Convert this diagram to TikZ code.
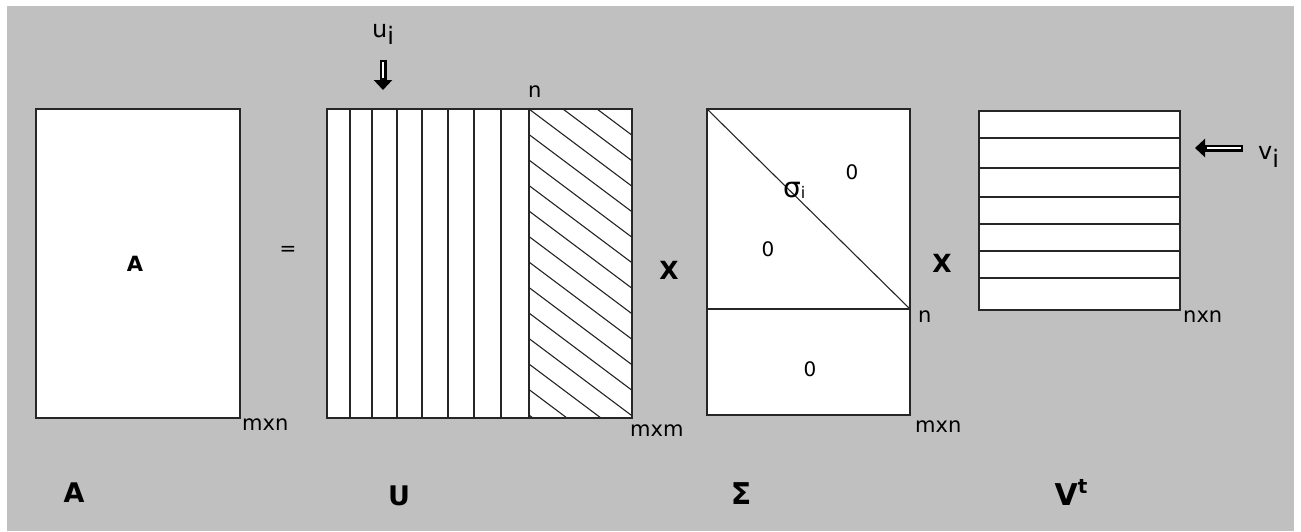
\documentclass[tikz,border=0pt]{standalone}
\usepackage{fontspec}
\setmainfont{DejaVu Sans}
\usetikzlibrary{arrows.meta,positioning}

\definecolor{bggray}{HTML}{C0C0C0}
\tikzset{
  mat/.style={draw=black!85,line width=1.6pt},
  grid/.style={draw=black!85,line width=1.1pt},
  dim/.style={font=\fontsize{21}{22}\selectfont,inner sep=0pt,anchor=base west},
  zero/.style={font=\fontsize{20}{22}\selectfont,inner sep=0pt},
  big/.style={font=\bfseries\fontsize{27}{30}\selectfont,inner sep=0pt,anchor=base},
  ptr/.style={line width=7pt,-{Triangle[length=10pt,width=18pt]}},
}

\begin{document}
\begin{tikzpicture}[x=1pt,y=-1pt]
\useasboundingbox (0,0) rectangle (1301,531);
\fill[white] (0,0) rectangle (1301,531);
\fill[bggray] (7,6) rectangle (1294,531);

\fill[white] (36,109) rectangle (240,418);
\draw[mat] (36,109) rectangle (240,418);
\node[font=\bfseries\fontsize{21}{22}\selectfont,inner sep=0pt] (inA) at (135,264) {A};
\node[dim] (dimA) at (242,430) {mxn};
\node[zero] (eq) at (288,251) {=};
\node[big] (nameA) at (74,502) {A};

\fill[white] (327,109) rectangle (632,418);
\foreach \x in {350,372,397,422,448,474,501,529}
  \draw[grid] (\x,109) -- (\x,418);
\begin{scope}
\clip (529,109) rectangle (632,418);
\foreach \k in {-3,...,12}
  \draw[grid] (529,109+25.5*\k) -- ++(120,90);
\end{scope}
\draw[mat] (327,109) rectangle (632,418);
\node[dim] (topU) at (528,97) {n};
\node[dim] (dimU) at (630,436) {mxm};
\node[dim,font=\fontsize{24}{26}\selectfont] (ui) at (372,37) {u\raisebox{-7pt}{i}};
\coordinate (uiA) at (383,60);
\coordinate (uiB) at (383,90);
\draw[ptr] (uiA) -- (uiB);
\draw[white,line width=1.5pt,shorten >=12pt,shorten <=2pt] (uiA) -- (uiB);
\node[big,anchor=center] (nameU) at (399,496) {U};
\node[font=\bfseries\fontsize{25}{30}\selectfont,inner sep=0pt] (x1) at (669,270) {X};

\fill[white] (707,109) rectangle (910,415);
\draw[grid] (707,109) -- (910,309);
\draw[mat] (707,309) -- (910,309);
\draw[mat] (707,109) rectangle (910,415);
\node[zero] (z1) at (852,172) {0};
\node[zero] (z2) at (768,249) {0};
\node[zero] (z3) at (810,369) {0};
\node[font=\fontsize{28}{30}\selectfont,inner sep=0pt,anchor=base west] (sig) at (783,197) {σ\raisebox{-1pt}{\fontsize{16}{16}\selectfont i}};
\node[dim] (topS) at (918,322) {n};
\node[dim] (dimS) at (915,432) {mxn};
\node[big,font=\bfseries\fontsize{30}{34}\selectfont] (nameS) at (741,504) {Σ};
\node[font=\bfseries\fontsize{25}{30}\selectfont,inner sep=0pt] (x2) at (942,263) {X};

\fill[white] (979,111) rectangle (1180,310);
\foreach \y in {138,168,197,224,251,278}
  \draw[grid] (979,\y) -- (1180,\y);
\draw[mat] (979,111) rectangle (1180,310);
\node[dim] (dimV) at (1183,322) {nxn};
\node[dim,font=\fontsize{24}{26}\selectfont] (vi) at (1258,159) {v\raisebox{-8pt}{i}};
\coordinate (viA) at (1243,148);
\coordinate (viB) at (1195,148);
\draw[ptr] (viA) -- (viB);
\draw[white,line width=1.5pt,shorten >=12pt,shorten <=2pt] (viA) -- (viB);
\node[big,font=\bfseries\fontsize{30}{34}\selectfont] (nameV) at (1071,505) {V\raisebox{12pt}{\fontsize{20}{20}\selectfont t}};
\end{tikzpicture}
\end{document}
